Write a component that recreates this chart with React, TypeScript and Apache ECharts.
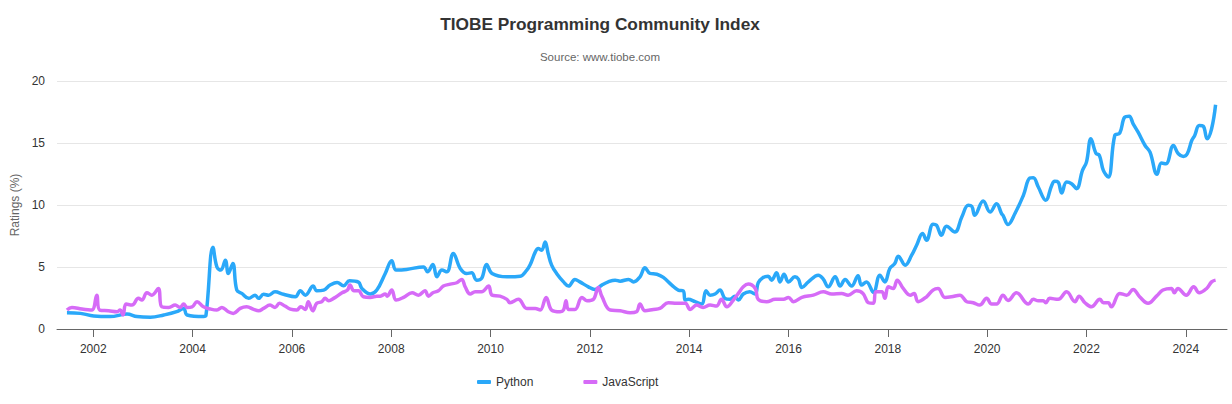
import React, { useEffect, useRef } from 'react';
import * as echarts from 'echarts';

// time as decimal year, ratings in %
const pythonYears = [
  2001.47, 2001.74, 2002.01, 2002.34, 2002.68, 2002.88, 2003.15, 2003.42, 2003.68, 2003.82,
  2003.89, 2004.22, 2004.27, 2004.41, 2004.49, 2004.57, 2004.66, 2004.72, 2004.81, 2004.89,
  2004.99, 2005.13, 2005.26, 2005.33, 2005.43, 2005.53, 2005.66, 2005.83, 2006.07, 2006.17,
  2006.27, 2006.43, 2006.5, 2006.64, 2006.77, 2006.91, 2007.04, 2007.16, 2007.34, 2007.41,
  2007.58, 2007.71, 2007.88, 2008.01, 2008.1, 2008.31, 2008.65, 2008.73, 2008.84, 2008.92,
  2009.02, 2009.12, 2009.25, 2009.39, 2009.52, 2009.62, 2009.72, 2009.82, 2009.92, 2010.03,
  2010.33, 2010.6, 2010.73, 2010.8, 2010.9, 2010.96, 2011.03, 2011.1, 2011.16, 2011.23,
  2011.33, 2011.47, 2011.57, 2011.7, 2011.8, 2011.97, 2012.1, 2012.24, 2012.37, 2012.51,
  2012.61, 2012.78, 2012.88, 2013.01, 2013.11, 2013.21, 2013.35, 2013.48, 2013.65, 2013.78,
  2013.88, 2013.92, 2013.98, 2014.12, 2014.25, 2014.34, 2014.42, 2014.52, 2014.62, 2014.72,
  2014.82, 2014.92, 2014.99, 2015.09, 2015.22, 2015.33, 2015.39, 2015.49, 2015.59, 2015.66,
  2015.76, 2015.83, 2015.91, 2016.0, 2016.13, 2016.2, 2016.27, 2016.4, 2016.6, 2016.7,
  2016.8, 2016.94, 2017.04, 2017.14, 2017.27, 2017.4, 2017.47, 2017.57, 2017.71, 2017.84,
  2017.94, 2018.04, 2018.14, 2018.21, 2018.35, 2018.48, 2018.58, 2018.7, 2018.78, 2018.91,
  2018.98, 2019.08, 2019.18, 2019.35, 2019.49, 2019.62, 2019.69, 2019.75, 2019.92, 2020.06,
  2020.19, 2020.29, 2020.32, 2020.42, 2020.56, 2020.73, 2020.86, 2020.93, 2021.03, 2021.18,
  2021.3, 2021.36, 2021.43, 2021.5, 2021.6, 2021.7, 2021.8, 2021.92, 2022.0, 2022.09,
  2022.19, 2022.26, 2022.34, 2022.44, 2022.57, 2022.67, 2022.77, 2022.86, 2022.94, 2023.04,
  2023.18, 2023.28, 2023.42, 2023.51, 2023.6, 2023.75, 2023.85, 2023.95, 2024.03, 2024.12,
  2024.18, 2024.27, 2024.35, 2024.43, 2024.52, 2024.6,
];
const pythonRatings = [
  1.31, 1.26, 1.05, 1.0, 1.2, 1.0, 0.94, 1.13, 1.4, 1.66,
  1.13, 1.0, 1.1, 6.6, 5.0, 4.75, 5.55, 4.48, 5.28, 3.14,
  2.87, 2.47, 2.73, 2.47, 2.8, 2.73, 3.0, 2.8, 2.6, 3.08,
  2.73, 3.46, 3.08, 3.14, 3.54, 3.76, 3.48, 3.89, 3.78, 3.27,
  2.82, 3.14, 4.48, 5.5, 4.75, 4.8, 5.01, 4.61, 5.2, 4.21,
  4.75, 4.61, 6.09, 4.88, 4.48, 4.53, 3.94, 4.08, 5.2, 4.48,
  4.21, 4.26, 4.75, 5.2, 6.2, 6.49, 6.36, 7.02, 6.09, 5.15,
  4.48, 3.8, 3.46, 4.0, 3.8, 3.4, 3.19, 3.54, 3.8, 3.94,
  3.86, 4.0, 3.8, 4.21, 4.93, 4.48, 4.42, 4.16, 3.54, 3.14,
  3.08, 2.33, 2.39, 2.2, 2.01, 3.08, 2.73, 2.82, 3.14, 2.47,
  2.39, 2.65, 2.33, 2.82, 3.0, 2.82, 3.73, 4.16, 4.26, 3.94,
  4.53, 3.8, 4.42, 3.8, 4.21, 4.02, 3.35, 3.8, 4.34, 4.02,
  3.4, 4.21, 3.46, 4.0, 3.46, 4.29, 3.54, 3.8, 2.95, 4.34,
  3.8, 4.88, 5.28, 5.87, 5.15, 5.95, 6.76, 7.7, 7.16, 8.45,
  8.37, 7.56, 8.29, 7.83, 9.03, 9.97, 9.9, 9.17, 10.32, 9.44,
  10.11, 9.31, 9.17, 8.42, 9.31, 10.78, 12.17, 12.2, 11.45, 10.38,
  11.58, 11.91, 11.85, 10.97, 11.85, 11.72, 11.32, 12.79, 13.46, 15.34,
  14.18, 14.0, 12.79, 12.25, 15.61, 15.79, 17.08, 17.16, 16.55, 15.87,
  14.8, 14.26, 12.47, 13.38, 13.33, 14.8, 14.13, 13.92, 14.13, 15.2,
  15.61, 16.41, 16.36, 15.34, 16.15, 18.08,
];

const jsYears = [
  2001.47, 2001.57, 2001.77, 2001.97, 2002.07, 2002.13, 2002.31, 2002.48, 2002.54, 2002.6,
  2002.66, 2002.78, 2002.91, 2002.98, 2003.08, 2003.18, 2003.31, 2003.38, 2003.52, 2003.65,
  2003.75, 2003.82, 2003.89, 2003.99, 2004.09, 2004.22, 2004.36, 2004.49, 2004.59, 2004.72,
  2004.82, 2004.96, 2005.09, 2005.23, 2005.33, 2005.43, 2005.56, 2005.66, 2005.75, 2005.86,
  2005.97, 2006.1, 2006.18, 2006.27, 2006.33, 2006.42, 2006.5, 2006.6, 2006.67, 2006.74,
  2006.84, 2007.01, 2007.12, 2007.17, 2007.25, 2007.34, 2007.44, 2007.58, 2007.71, 2007.78,
  2007.88, 2007.92, 2008.01, 2008.1, 2008.25, 2008.42, 2008.55, 2008.68, 2008.75, 2008.84,
  2008.95, 2009.05, 2009.19, 2009.32, 2009.42, 2009.49, 2009.59, 2009.69, 2009.82, 2009.96,
  2010.03, 2010.19, 2010.33, 2010.39, 2010.56, 2010.73, 2010.9, 2011.0, 2011.12, 2011.23,
  2011.4, 2011.47, 2011.52, 2011.57, 2011.7, 2011.84, 2011.94, 2012.07, 2012.17, 2012.24,
  2012.41, 2012.61, 2012.81, 2012.94, 2013.01, 2013.11, 2013.28, 2013.41, 2013.58, 2013.75,
  2013.92, 2014.02, 2014.15, 2014.28, 2014.42, 2014.55, 2014.65, 2014.76, 2014.89, 2014.99,
  2015.09, 2015.19, 2015.33, 2015.39, 2015.56, 2015.73, 2015.9, 2016.0, 2016.1, 2016.27,
  2016.5, 2016.7, 2016.87, 2017.07, 2017.2, 2017.37, 2017.5, 2017.61, 2017.71, 2017.76,
  2017.88, 2017.94, 2018.01, 2018.11, 2018.19, 2018.31, 2018.45, 2018.53, 2018.61, 2018.78,
  2018.91, 2019.01, 2019.15, 2019.28, 2019.45, 2019.59, 2019.72, 2019.85, 2019.99, 2020.09,
  2020.19, 2020.32, 2020.42, 2020.59, 2020.83, 2020.93, 2021.03, 2021.13, 2021.18, 2021.26,
  2021.43, 2021.6, 2021.77, 2021.85, 2021.97, 2022.1, 2022.27, 2022.34, 2022.44, 2022.5,
  2022.67, 2022.81, 2022.94, 2023.07, 2023.24, 2023.41, 2023.54, 2023.71, 2023.77, 2023.84,
  2024.01, 2024.16, 2024.27, 2024.42, 2024.52, 2024.6,
];
const jsRatings = [
  1.53, 1.74, 1.61, 1.53, 2.73, 1.53, 1.47, 1.39, 1.53, 1.13,
  2.01, 1.93, 2.47, 2.33, 2.92, 2.73, 3.27, 1.79, 1.74, 1.93,
  1.74, 2.01, 1.74, 1.79, 2.2, 1.79, 1.61, 1.53, 1.74, 1.39,
  1.26, 1.66, 1.79, 1.58, 1.47, 1.66, 1.93, 1.74, 2.07, 1.85,
  1.6, 1.53, 1.8, 1.58, 2.2, 1.47, 2.07, 2.2, 2.47, 2.28,
  2.47, 2.92, 3.14, 3.54, 3.08, 3.08, 2.6, 2.55, 2.65, 2.65,
  2.82, 2.65, 3.14, 2.33, 2.55, 2.92, 2.73, 3.08, 2.65, 2.92,
  3.08, 3.46, 3.62, 3.73, 4.0, 3.4, 2.82, 3.0, 3.0, 3.46,
  2.73, 2.65, 2.39, 2.12, 2.39, 1.66, 1.66, 1.53, 2.55, 1.53,
  1.39, 1.53, 2.28, 1.58, 1.58, 2.55, 2.28, 2.39, 3.35, 2.65,
  1.53, 1.47, 1.31, 1.39, 2.01, 1.47, 1.58, 1.66, 2.12, 2.07,
  2.07, 1.58, 1.93, 1.74, 1.93, 1.85, 2.39, 1.79, 2.33, 2.87,
  3.4, 3.62, 3.27, 2.39, 2.2, 2.39, 2.39, 2.55, 2.2, 2.55,
  2.73, 3.0, 2.82, 2.87, 2.73, 3.08, 2.87, 2.12, 2.07, 3.0,
  3.0, 2.47, 3.4, 3.27, 3.94, 3.27, 2.73, 2.87, 2.2, 2.6,
  3.14, 3.27, 2.55, 2.6, 2.73, 2.2, 2.12, 1.93, 2.47, 2.01,
  2.01, 2.73, 2.3, 2.92, 2.01, 2.39, 2.28, 2.28, 2.12, 2.47,
  2.39, 3.0, 2.2, 2.65, 2.12, 1.79, 2.39, 2.12, 2.12, 1.79,
  2.87, 2.73, 3.19, 2.6, 2.07, 2.65, 3.14, 3.27, 2.92, 3.27,
  2.73, 3.4, 2.92, 3.27, 3.8, 3.94,
];

const yearTicks = [2002, 2004, 2006, 2008, 2010, 2012, 2014, 2016, 2018, 2020, 2022, 2024];

const FONT = '"Liberation Sans", Arial, sans-serif';

const App: React.FC = () => {
  const chartRef = useRef<HTMLDivElement>(null);

  useEffect(() => {
    if (!chartRef.current) return;
    document.body.style.margin = '0';
    const chart = echarts.init(chartRef.current, undefined, { renderer: 'svg' });

    const pairs = (xs: number[], ys: number[]) => xs.map((x, i) => [x, ys[i]]);

    chart.setOption({
      animation: false,
      textStyle: { fontFamily: FONT },
      title: {
        text: 'TIOBE Programming Community Index',
        subtext: 'Source: www.tiobe.com',
        left: 600,
        top: 15,
        padding: 0,
        textAlign: 'center',
        itemGap: 19,
        textStyle: { fontSize: 17.3, fontWeight: 'bold', color: '#333333', fontFamily: FONT },
        subtextStyle: { fontSize: 11.5, color: '#666666', fontFamily: FONT },
      },
      legend: {
        bottom: 11,
        left: 472,
        itemWidth: 14,
        itemHeight: 4,
        itemGap: 50,
        icon: 'roundRect',
        textStyle: { fontSize: 12, color: '#333333', fontFamily: FONT },
        data: ['Python', 'JavaScript'],
      },
      tooltip: { trigger: 'axis' },
      grid: { left: 57, right: 5, top: 81, bottom: 75 },
      xAxis: {
        type: 'value',
        min: 2001.27,
        max: 2024.83,
        splitLine: { show: false },
        axisLine: { lineStyle: { color: '#666666', width: 1 } },
        axisTick: { customValues: yearTicks, length: 8, lineStyle: { color: '#666666' } },
        axisLabel: {
          customValues: yearTicks,
          formatter: (v: number) => String(Math.round(v)),
          color: '#333333',
          fontSize: 12,
          margin: 14,
        },
      },
      yAxis: {
        type: 'value',
        min: 0,
        max: 20,
        interval: 5,
        name: 'Ratings (%)',
        nameLocation: 'middle',
        nameRotate: 90,
        nameGap: 29,
        nameTextStyle: { color: '#666666', fontSize: 12 },
        axisLine: { show: false },
        axisTick: { show: false },
        splitLine: { lineStyle: { color: '#e6e6e6' } },
        axisLabel: { color: '#333333', fontSize: 12, margin: 12 },
      },
      series: [
        {
          name: 'Python',
          type: 'line',
          data: pairs(pythonYears, pythonRatings),
          smooth: 0.4,
          symbol: 'none',
          itemStyle: { color: '#2aa8f9' },
          lineStyle: { color: '#2aa8f9', width: 3.5 },
        },
        {
          name: 'JavaScript',
          type: 'line',
          data: pairs(jsYears, jsRatings),
          smooth: 0.4,
          symbol: 'none',
          itemStyle: { color: '#d66bf7' },
          lineStyle: { color: '#d66bf7', width: 3.5 },
        },
      ],
    });

    const handleResize = () => chart.resize();
    window.addEventListener('resize', handleResize);
    return () => {
      window.removeEventListener('resize', handleResize);
      chart.dispose();
    };
  }, []);

  return <div ref={chartRef} style={{ width: 1232, height: 404, background: '#ffffff' }} />;
};

export default App;
